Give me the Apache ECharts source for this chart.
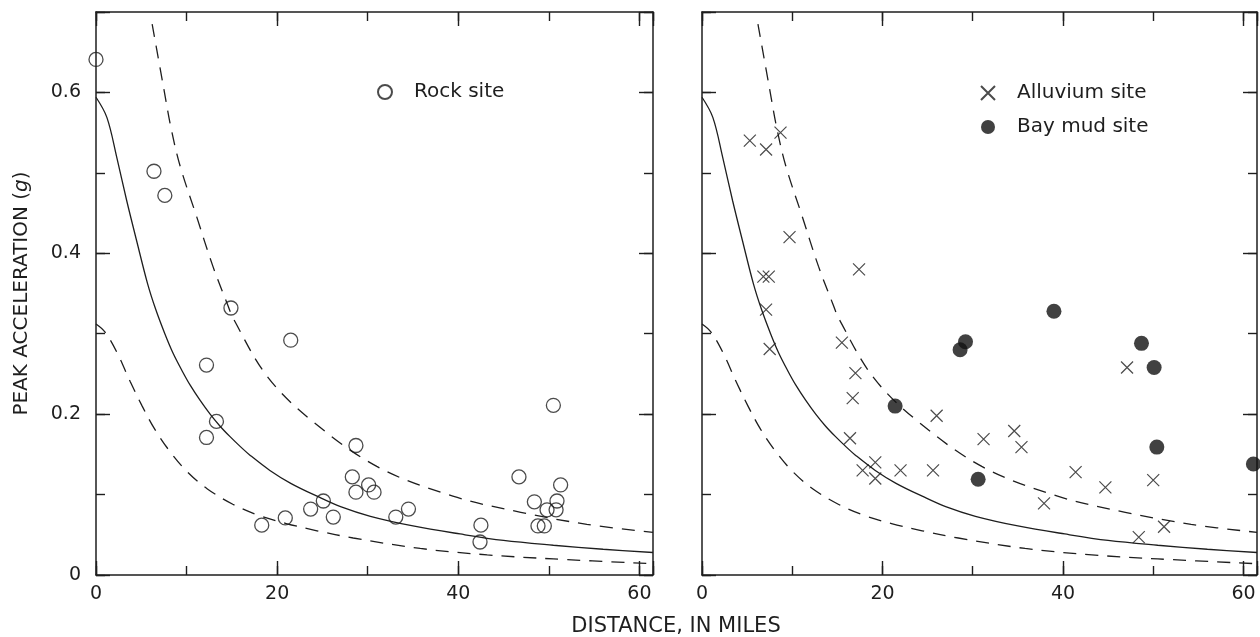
<!DOCTYPE html>
<html>
<head>
<meta charset="utf-8">
<title>Peak acceleration versus distance</title>
<script src="https://cdn.jsdelivr.net/npm/echarts@6.0.0/dist/echarts.min.js"></script>
<style>
  html, body { margin: 0; padding: 0; background: #ffffff; }
  #chart { width: 1260px; height: 637px; }
</style>
</head>
<body>
<div id="chart"></div>
<script>
// Distance (miles) and peak acceleration (g) pairs
const rockSite = [
  [0, 0.641], [6.4, 0.502], [7.6, 0.472], [14.9, 0.332], [21.5, 0.292],
  [12.2, 0.261], [13.3, 0.191], [12.2, 0.171], [18.3, 0.062], [20.9, 0.071],
  [23.7, 0.082], [25.1, 0.092], [26.2, 0.072], [28.7, 0.161], [28.3, 0.122],
  [28.7, 0.103], [30.1, 0.112], [30.7, 0.103], [33.1, 0.072], [34.5, 0.082],
  [42.5, 0.062], [42.4, 0.041], [46.7, 0.122], [48.4, 0.091], [50.5, 0.211],
  [51.3, 0.112], [50.9, 0.092], [50.8, 0.081], [49.8, 0.081], [48.8, 0.061],
  [49.5, 0.061]
];

const alluviumSite = [
  [5.3, 0.540], [7.1, 0.529], [8.7, 0.550], [9.7, 0.420], [17.4, 0.380],
  [6.8, 0.371], [7.4, 0.371], [7.1, 0.330], [7.5, 0.281], [15.5, 0.289],
  [17.0, 0.251], [16.7, 0.220], [16.4, 0.170], [26.0, 0.198], [17.8, 0.130],
  [19.2, 0.140], [19.2, 0.120], [22.0, 0.130], [25.6, 0.130], [31.2, 0.169],
  [34.6, 0.179], [35.4, 0.159], [37.9, 0.089], [41.4, 0.128], [44.7, 0.109],
  [47.1, 0.258], [50.0, 0.118], [48.4, 0.047], [51.2, 0.060]
];

const bayMudSite = [
  [28.6, 0.280], [29.2, 0.290], [48.7, 0.288], [50.1, 0.258], [50.4, 0.159],
  [61.1, 0.138], [30.6, 0.119], [21.4, 0.210], [39.0, 0.328]
];

// Attenuation curves
const medianCurve = [
  [0, 0.594], [1.2, 0.569], [2.3, 0.519], [3.4, 0.465], [4.5, 0.415],
  [5.7, 0.362], [6.6, 0.330], [7.6, 0.300], [8.5, 0.276], [9.5, 0.254],
  [10.4, 0.236], [11.5, 0.217], [12.6, 0.200], [13.7, 0.185], [14.8, 0.172],
  [16.0, 0.159], [17.0, 0.149], [19.2, 0.130], [21.5, 0.114], [24.4, 0.098],
  [27.0, 0.085], [30.3, 0.073], [35.0, 0.061], [40.2, 0.051], [45.0, 0.043],
  [50.5, 0.037], [56.0, 0.032], [61.5, 0.028]
];

const upperCurve = [
  [6.2, 0.685], [7.4, 0.610], [8.3, 0.555], [9.3, 0.508], [11.1, 0.446],
  [12.9, 0.384], [14.5, 0.337], [15.2, 0.318], [18.9, 0.247], [23.6, 0.194],
  [31.0, 0.135], [39.4, 0.098], [46.9, 0.078], [54.2, 0.063], [61.5, 0.053]
];

const lowerCurve = [
  [0, 0.312], [1.0, 0.302], [2.3, 0.277], [3.8, 0.240], [5.1, 0.210],
  [6.5, 0.181], [8.2, 0.153], [10.1, 0.128], [12.3, 0.107], [15.1, 0.088],
  [18.0, 0.074], [21.0, 0.064], [24.4, 0.055], [28.4, 0.046], [35.8, 0.033],
  [43.2, 0.025], [50.5, 0.020], [61.5, 0.014]
];

// Tick labels
const distanceTicks = [0, 20, 40, 60];
const accelTicks = ['0', '0.2', '0.4', '0.6'];

const INK = '#1e1e1e';
const FONT = 'DejaVu Sans';
const X_RANGE = [0, 61.5];
const Y_RANGE = [0, 0.7];

function xLabel(v) {
  return distanceTicks.indexOf(Math.round(v)) >= 0 && Math.abs(v - Math.round(v)) < 1e-6
    ? String(Math.round(v)) : '';
}
function yLabel(v) {
  const k = Math.round(v * 10);
  if (Math.abs(v * 10 - k) > 1e-6) return '';
  const s = k === 0 ? '0' : (k / 10).toFixed(1);
  return accelTicks.indexOf(s) >= 0 ? s : '';
}

// Four axes per direction and plot: long labelled ticks and short
// intermediate ticks, on both the near and far edge so the frame is closed.
function makeAxes(dim, gridIndex, labelled) {
  const isX = dim === 'x';
  const pos = isX ? ['bottom', 'top'] : ['left', 'right'];
  const range = isX ? X_RANGE : Y_RANGE;
  const major = isX ? 20 : 0.2;
  const minor = isX ? 10 : 0.1;
  const base = {
    type: 'value', gridIndex: gridIndex, min: range[0], max: range[1],
    splitLine: { show: false }
  };
  const line = { show: true, onZero: false, lineStyle: { color: INK, width: 1.5 } };
  const noLine = { show: false, onZero: false };
  const tickStyle = { color: INK, width: 1.4 };
  const label = labelled ? {
    show: true, color: INK, fontFamily: FONT, fontSize: 19,
    margin: isX ? 10 : 15,
    formatter: isX ? xLabel : yLabel
  } : { show: false };
  return [
    Object.assign({}, base, { position: pos[0], interval: major, axisLine: line,
      axisTick: { show: true, inside: true, length: 14, lineStyle: tickStyle }, axisLabel: label }),
    Object.assign({}, base, { position: pos[0], interval: minor, axisLine: noLine,
      axisTick: { show: true, inside: true, length: 9, lineStyle: tickStyle }, axisLabel: { show: false } }),
    Object.assign({}, base, { position: pos[1], interval: major, axisLine: line,
      axisTick: { show: true, inside: true, length: 14, lineStyle: tickStyle }, axisLabel: { show: false } }),
    Object.assign({}, base, { position: pos[1], interval: minor, axisLine: noLine,
      axisTick: { show: true, inside: true, length: 9, lineStyle: tickStyle }, axisLabel: { show: false } })
  ];
}

const xAxes = makeAxes('x', 0, true).concat(makeAxes('x', 1, true));
const yAxes = makeAxes('y', 0, true).concat(makeAxes('y', 1, false));
yAxes[0].name = '{t|PEAK ACCELERATION (}{i|g}{t|)}';
yAxes[0].nameLocation = 'middle';
yAxes[0].nameGap = 64;
yAxes[0].nameTextStyle = {
  color: INK,
  rich: {
    t: { fontFamily: FONT, fontSize: 20, color: INK },
    i: { fontFamily: FONT, fontSize: 20, color: INK, fontStyle: 'italic' }
  }
};

function curves(xi, yi) {
  const common = {
    type: 'line', xAxisIndex: xi, yAxisIndex: yi, showSymbol: false, symbol: 'none',
    smooth: 0.35, silent: true, z: 2
  };
  return [
    Object.assign({ name: 'median', data: medianCurve,
      lineStyle: { color: INK, width: 1.3 } }, common),
    Object.assign({ name: 'upper', data: upperCurve,
      lineStyle: { color: INK, width: 1.3, type: [13, 9] } }, common),
    Object.assign({ name: 'lower', data: lowerCurve,
      lineStyle: { color: INK, width: 1.3, type: [13, 9] } }, common)
  ];
}

const CROSS = 'path://M0,0L10,10M10,0L0,10';

const option = {
  animation: false,
  backgroundColor: '#ffffff',
  textStyle: { fontFamily: FONT, color: INK },
  grid: [
    { left: 96, top: 12, width: 557, height: 563, containLabel: false, outerBoundsMode: 'none' },
    { left: 702, top: 12, width: 555, height: 563, containLabel: false, outerBoundsMode: 'none' }
  ],
  xAxis: xAxes,
  yAxis: yAxes,
  legend: [
    {
      data: ['Rock site'], left: 377, top: 82, padding: 0,
      itemWidth: 48, itemHeight: 14, selectedMode: false,
      textStyle: { fontFamily: FONT, fontSize: 20, color: INK, padding: 0 }
    },
    {
      data: ['Alluvium site', 'Bay mud site'], orient: 'vertical',
      left: 980, top: 83, padding: 0, itemGap: 14,
      itemWidth: 48, itemHeight: 14, selectedMode: false,
      textStyle: { fontFamily: FONT, fontSize: 20, color: INK, padding: 0 }
    }
  ],
  graphic: [{
    type: 'text', x: 676, y: 627,
    style: {
      text: 'DISTANCE, IN MILES', fill: INK, fontFamily: FONT, fontSize: 21,
      textAlign: 'center', textVerticalAlign: 'middle', align: 'center', verticalAlign: 'middle'
    }
  }],
  series: curves(0, 0).concat(curves(4, 4)).concat([
    {
      name: 'Rock site', type: 'scatter', xAxisIndex: 0, yAxisIndex: 0,
      data: rockSite, symbol: 'circle', symbolSize: 14, z: 3,
      itemStyle: { color: 'transparent', borderColor: INK, borderWidth: 1.3 }
    },
    {
      name: 'Alluvium site', type: 'scatter', xAxisIndex: 4, yAxisIndex: 4,
      data: alluviumSite, symbol: CROSS, symbolSize: 12, z: 3,
      itemStyle: { color: 'transparent', borderColor: INK, borderWidth: 1.2 }
    },
    {
      name: 'Bay mud site', type: 'scatter', xAxisIndex: 4, yAxisIndex: 4,
      data: bayMudSite, symbol: 'circle', symbolSize: 15, z: 3,
      itemStyle: { color: '#111111', borderColor: '#111111', borderWidth: 0 }
    }
  ])
};

const chart = echarts.init(document.getElementById('chart'), null, { renderer: 'canvas' });
chart.setOption(option);
</script>
</body>
</html>
